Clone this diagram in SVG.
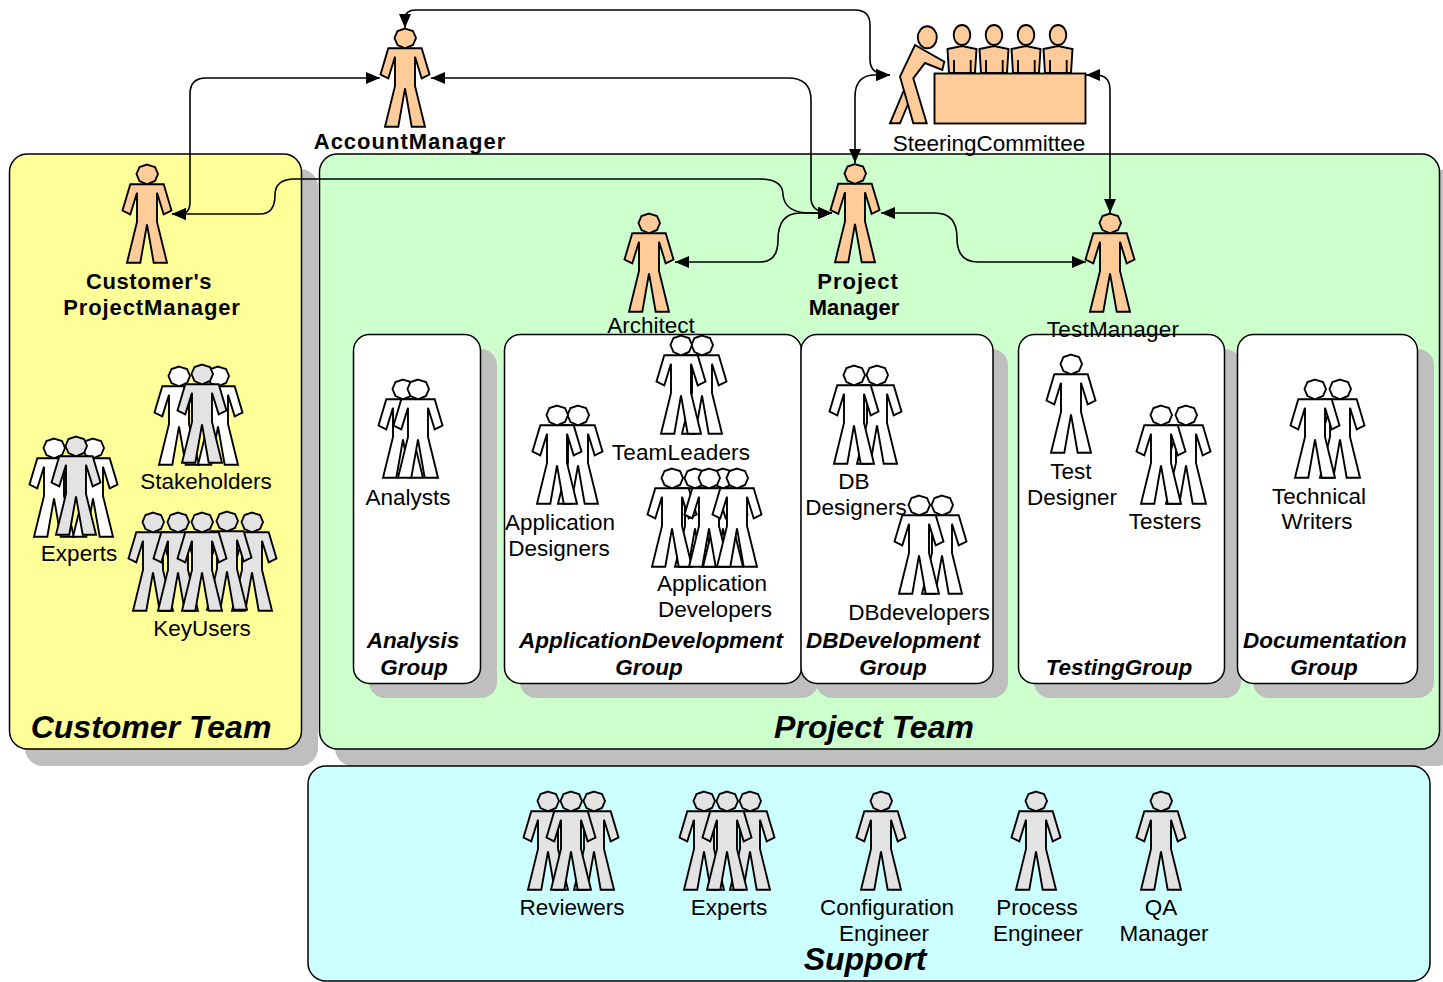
<svg xmlns="http://www.w3.org/2000/svg" width="1443" height="982" viewBox="0 0 1443 982">
<style>
text{font-family:"Liberation Sans",Arial,sans-serif;font-size:22.5px;fill:#000;text-anchor:middle}
.b{font-weight:bold;font-size:22px}
.g{font-weight:bold;font-style:italic}
.t{font-weight:bold;font-style:italic;font-size:32px}
.box{stroke:#000;stroke-width:1.5}
.sh{fill:#bfbfbf}
.or{fill:#ffcc99}
.wh{fill:#fff}
.gr{fill:#e3e3e3}
.c{fill:none;stroke:#000;stroke-width:1.6;marker-start:url(#ah);marker-end:url(#ah)}
.ol{stroke:#000;stroke-width:1.9}
</style>
<defs>
<marker id="ah" viewBox="0 0 14 12" refX="14" refY="6" markerUnits="userSpaceOnUse" markerWidth="14" markerHeight="12" orient="auto-start-reverse"><path d="M0 0L14 6L0 12Z" fill="#000"/></marker>
<g id="p" class="ol">
<path d="M-16.7 20.300L16.700 20.300L24.500 46.500L16.700 50.300L10 28.700L10 58L20 98.700L6.700 98.700L0 60.300L-6.700 98.700L-20 98.700L-10 58L-10 28.700L-16.700 50.300L-24.500 46.500Z"/>
<path d="M0 .6L8 3L11 10L8 17L0 20.300L-7.500 17L-10.500 10L-7.500 3Z"/>
</g>
<g id="s" class="ol"><path d="M-14.500 0L0 -3L14.500 0L13 24L-13 24Z"/><path d="M-8 11V24M8.700 11V24" fill="none"/><ellipse cx="0" cy="-14" rx="8.300" ry="10"/></g>
</defs>

<g id="customer-team"><rect class="sh" x="25" y="169" width="293" height="597" rx="18"/><rect class="box" x="9.500" y="154" width="292" height="595" rx="18" fill="#ffff99"/><text class="t" x="151" y="738">Customer  Team</text></g>
<g id="project-team"><rect class="sh" x="335" y="169" width="1120" height="597" rx="18"/><rect class="box" x="319.500" y="154" width="1120" height="595" rx="18" fill="#ccffcc"/><text class="t" x="874" y="738">Project  Team</text></g>
<g id="support"><rect class="box" x="308" y="766" width="1122" height="215" rx="18" fill="#ccffff"/></g>

<g id="analysis-group"><rect class="sh" x="369" y="349" width="128" height="349" rx="16"/><rect class="box" x="353.500" y="334.500" width="127" height="349" rx="16" fill="#fff"/><text class="g" x="413" y="648">Analysis</text><text class="g" x="414" y="675">Group</text></g>
<g id="application-group"><rect class="sh" x="520" y="349" width="298" height="349" rx="16"/><rect class="box" x="504.500" y="334.500" width="297" height="349" rx="16" fill="#fff"/><text class="g" x="651" y="648">ApplicationDevelopment</text><text class="g" x="649" y="675">Group</text></g>
<g id="db-group"><rect class="sh" x="816" y="349" width="192" height="349" rx="16"/><rect class="box" x="801" y="334.500" width="192" height="349" rx="16" fill="#fff"/><text class="g" x="893" y="648">DBDevelopment</text><text class="g" x="893" y="675">Group</text></g>
<g id="testing-group"><rect class="sh" x="1034" y="349" width="207" height="349" rx="16"/><rect class="box" x="1018.500" y="334.500" width="206" height="349" rx="16" fill="#fff"/><text class="g" x="1119" y="675">TestingGroup</text></g>
<g id="documentation-group"><rect class="sh" x="1253" y="349" width="181" height="349" rx="16"/><rect class="box" x="1237.500" y="334.500" width="180" height="349" rx="16" fill="#fff"/><text class="g" x="1325" y="648">Documentation</text><text class="g" x="1324" y="675">Group</text></g>

<g id="connectors">
<path class="c" d="M172 214H180Q190 214 190 202V94Q190 78 206 78H380"/>
<path class="c" d="M431 78H788Q811 78 811 100V198Q811 213 832 213"/>
<path class="c" d="M405 28V19Q405 10 416 10H855Q870 10 870 25V60Q870 75 890 75"/>
<path class="c" d="M855 163V97Q855 75 875 75H890"/>
<path class="c" d="M1086 75H1096Q1110 75 1110 90V213"/>
<path class="c" d="M881 213H935Q957 213 957 238Q957 262 978 262H1086"/>
<path class="c" d="M675 262H760Q778 262 778 240Q778 213 800 213H832"/>
<path class="c" d="M172 214H260Q275 214 275 195Q275 179 295 179H760Q783 179 783 195Q785 213 810 213H832"/>
</g>

<g id="account-manager"><use href="#p" x="405" y="28" class="or"/><text class="b" x="410" y="149" letter-spacing="1">AccountManager</text></g>
<g id="steering-committee" class="or">
<path class="ol" d="M904 90L890 123.300L900 123.300L913 92Z"/>
<path class="ol" d="M915 45L944.300 61.700L942.300 70L925 63L913.300 78.300L926.700 123.300L913.300 123.300L900 76.700Z"/>
<ellipse class="ol" cx="927.300" cy="37.300" rx="9.500" ry="11"/>
<use href="#s" x="962" y="49"/><use href="#s" x="994" y="49"/><use href="#s" x="1026" y="49"/><use href="#s" x="1058" y="49"/>
<rect class="ol" x="934.500" y="73.500" width="151" height="50"/>
<text x="989" y="151">SteeringCommittee</text></g>
<g id="customer-pm"><use href="#p" x="147" y="164" class="or"/><text class="b" x="149" y="289" letter-spacing=".6">Customer's</text><text class="b" x="152" y="315" letter-spacing=".9">ProjectManager</text></g>
<g id="project-manager"><use href="#p" x="855" y="163.500" class="or"/><text class="b" x="858" y="289" letter-spacing="1">Project</text><text class="b" x="854" y="315">Manager</text></g>
<g id="architect"><use href="#p" x="649" y="213" class="or"/><text x="651" y="333">Architect</text></g>
<g id="test-manager"><use href="#p" x="1110" y="213" class="or"/><text x="1113" y="337" letter-spacing=".2">TestManager</text></g>

<g id="analysts" class="wh"><use href="#p" x="403" y="379"/><use href="#p" x="418" y="379"/><text x="408" y="505">Analysts</text></g>
<g id="team-leaders" class="wh"><use href="#p" x="702" y="335"/><use href="#p" x="681" y="335"/><text x="681" y="460" letter-spacing=".2">TeamLeaders</text></g>
<g id="app-designers" class="wh"><use href="#p" x="578" y="405"/><use href="#p" x="557" y="405"/><text x="560" y="530">Application</text><text x="559" y="556">Designers</text></g>
<g id="app-developers" class="wh"><use href="#p" x="695" y="468"/><use href="#p" x="723" y="468"/><use href="#p" x="672" y="468"/><use href="#p" x="709" y="468"/><use href="#p" x="737" y="468"/><text x="712" y="591">Application</text><text x="715" y="617">Developers</text></g>
<g id="db-designers" class="wh"><use href="#p" x="877" y="365"/><use href="#p" x="854" y="365"/><text x="854" y="489">DB</text><text x="856" y="515">Designers</text></g>
<g id="db-developers" class="wh"><use href="#p" x="942" y="495"/><use href="#p" x="919" y="495"/><text x="919" y="620">DBdevelopers</text></g>
<g id="test-designer" class="wh"><use href="#p" x="1071" y="354"/><text x="1071" y="479">Test</text><text x="1072" y="505">Designer</text></g>
<g id="testers" class="wh"><use href="#p" x="1186" y="405"/><use href="#p" x="1161" y="405"/><text x="1165" y="529">Testers</text></g>
<g id="technical-writers" class="wh"><use href="#p" x="1340" y="379"/><use href="#p" x="1315" y="379"/><text x="1319" y="504">Technical</text><text x="1317" y="529">Writers</text></g>

<g id="stakeholders"><use href="#p" x="179" y="366" class="wh"/><use href="#p" x="218" y="366" class="wh"/><use href="#p" x="202" y="364" class="gr"/><text x="206" y="489">Stakeholders</text></g>
<g id="customer-experts"><use href="#p" x="54" y="438" class="wh"/><use href="#p" x="93" y="438" class="wh"/><use href="#p" x="76" y="436" class="gr"/><text x="79" y="561">Experts</text></g>
<g id="key-users" class="gr"><use href="#p" x="153" y="512"/><use href="#p" x="252" y="512"/><use href="#p" x="227" y="511"/><use href="#p" x="178" y="512"/><use href="#p" x="202" y="512"/><text x="202" y="636">KeyUsers</text></g>

<g id="reviewers" class="gr"><use href="#p" x="548" y="791"/><use href="#p" x="594" y="791"/><use href="#p" x="571" y="791"/><text x="572" y="915">Reviewers</text></g>
<g id="support-experts" class="gr"><use href="#p" x="704" y="791"/><use href="#p" x="750" y="791"/><use href="#p" x="727" y="791"/><text x="729" y="915">Experts</text></g>
<g id="config-engineer" class="gr"><use href="#p" x="881" y="791"/><text x="887" y="915">Configuration</text><text x="884" y="941">Engineer</text></g>
<g id="process-engineer" class="gr"><use href="#p" x="1036" y="791"/><text x="1037" y="915">Process</text><text x="1038" y="941">Engineer</text></g>
<g id="qa-manager" class="gr"><use href="#p" x="1161" y="791"/><text x="1161" y="915">QA</text><text x="1164" y="941">Manager</text></g>
<text class="t" x="865" y="970">Support</text>
</svg>
